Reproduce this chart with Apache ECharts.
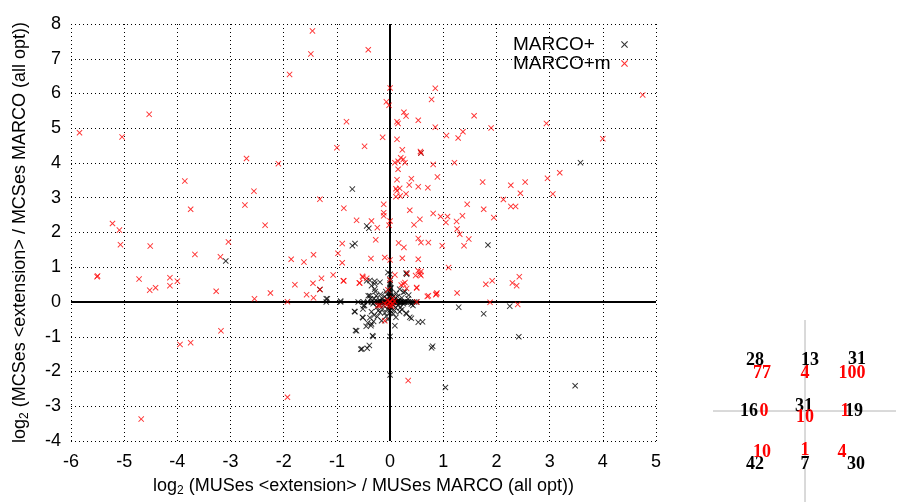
<!DOCTYPE html>
<html>
<head>
<meta charset="utf-8">
<script src="https://cdn.jsdelivr.net/npm/echarts@6/dist/echarts.min.js"></script>
<style>html,body{margin:0;padding:0;background:#fff;}#c{width:898px;height:502px;}</style>
</head>
<body>
<div id="c"></div>
<script>
// ---- data ----
const xTicks = [-6,-5,-4,-3,-2,-1,0,1,2,3,4,5];
const yTicks = [-4,-3,-2,-1,0,1,2,3,4,5,6,7,8];
const seriesNames = ['MARCO+', 'MARCO+m'];

const marcoPlus = [
 [0,0],[0,0],[0,0],[0,0],[0,0],
 [0,0.8],[0,0.62],[0,0.5],[0,0.42],[0,0.33],[0,0.25],[0,0.18],[0,0.12],[0,0.07],[0,0.28],[0,0.55],[0,0.38],[0,0.15],
 [0,-0.08],[0,-0.16],[0,-0.24],[0,-0.32],[0,-0.99],[0,-2.1],[0,-0.12],
 [-1.2,0],[-0.93,0],[-0.6,0],[-0.5,0],[-0.42,0],[-0.35,0],[-0.3,0],[-0.25,0],[-0.2,0],[-0.16,0],[-0.12,0],[-0.09,0],[-0.06,0],[-0.03,0],[-0.22,0],[-0.14,0],
 [0.03,0],[0.06,0],[0.09,0],[0.12,0],[0.15,0],[0.18,0],[0.21,0],[0.24,0],[0.27,0],[0.3,0],[0.34,0],[0.38,0],[0.42,0],[0.46,0],[0.5,0],[0.08,0],[0.14,0],[0.2,0],[0.26,0],
 [-3.09,1.18],[-1.32,0.36],[-1.18,0.09],[3.58,4.01],[-0.71,3.25],[-0.44,2.19],[-0.40,2.12],[-0.71,1.62],[-0.66,1.68],[1.84,1.64],[0.58,4.29],[-0.04,0.85],[0.30,0.83],[-1.20,0.09],[-0.93,0.03],
 [-0.67,-0.27],[-0.51,-0.45],[-0.63,-0.83],[-0.53,-1.35],[-0.39,-1.25],[-0.33,-0.97],[-0.35,-0.63],[-0.31,-0.56],[-0.16,-0.54],[0.09,-0.68],[0.11,-0.44],[0.37,-0.44],[0.30,-0.32],[0.53,-0.58],[0.61,-0.57],[0.78,-1.32],[1.04,-2.46],[1.29,-0.15],[1.76,-0.34],[2.25,-0.12],[2.42,-1.00],[3.48,-2.41],
 [-0.44,0.61],[-0.38,0.62],[-0.29,0.60],[-0.29,0.37],[-0.38,0.18],[-0.50,-0.11],[0.18,0.37],[0.35,0.20],[0.43,-0.10],[-0.29,0.52],[-0.19,0.57],[-0.35,0.47],[0.31,0.80],[0.25,0.28],[-0.41,0.18],[-0.37,0.09],[-0.48,-0.10],[-0.51,-0.20],[-0.66,-0.28],[-0.52,-0.44],[-0.38,-0.45],[-0.42,-0.60],[-0.36,-0.68],[-0.45,-0.70],[-0.19,-0.30],[-0.07,-0.40],[-0.04,-0.50],[0.06,-0.34],[0.31,-0.34],[0.40,-0.47],[0.34,0.09],[0.40,-0.06],[-0.65,-0.82],[-0.32,-0.99],[-0.55,-1.36],[-0.43,-1.33],[0.80,-1.27],
 [-0.15,0.10],[-0.10,0.15],[-0.20,0.05],[-0.12,-0.10],[0.10,0.10],[0.15,-0.10],[0.05,0.20],[-0.05,-0.20],[0.20,-0.15],[-0.25,-0.15],[-0.18,0.22],[0.12,0.25],[0.22,0.12],[-0.08,0.30],[0.08,-0.25],[-0.30,0.10],[0.25,-0.05],[-0.22,-0.25],[0.18,-0.28],[-0.10,-0.32],[0.02,0.40],[-0.28,0.30],[0.28,0.30],[-0.05,0.08],[0.05,-0.08],[-0.32,-0.05],[-0.26,0.18],[0.16,0.05],[-0.14,-0.20],[0.10,-0.16],[-0.35,-0.28],[-0.30,-0.38],[-0.24,-0.42],[0.04,0.12],[-0.06,0.22],[0.14,0.16],[-0.20,-0.06],[0.22,-0.22],[-0.02,-0.12],[0.08,0.05]
];

const marcoPlusM = [
 [-5.84,4.87],[-5.04,4.75],[-4.53,5.40],[-3.86,3.48],[-3.75,2.67],[-5.22,2.26],[-5.09,2.07],[-5.07,1.65],[-4.51,1.61],[-3.04,1.73],[-2.70,4.13],[-2.73,2.79],[-2.56,3.19],[-2.35,2.21],[-2.10,3.98],[-1.89,6.55],[-1.49,7.14],[-1.46,7.80],[-1.32,2.96],[-3.67,1.37],[-3.19,1.30],[-5.51,0.73],[-5.50,0.75],[-4.72,0.66],[-4.52,0.34],[-4.41,0.41],[-4.14,0.70],[-4.14,0.47],[-4.00,0.60],[-3.27,0.31],[-3.18,-0.83],[-3.95,-1.22],[-3.75,-1.17],[-2.55,0.09],[-2.25,0.26],[-1.93,0.01],[-1.93,-2.74],[-4.68,-3.37],[-1.86,1.23],[-1.62,1.15],[-1.44,1.36],[-1.79,0.50],[-1.45,0.54],[-1.57,0.21],[-1.44,0.12],[-1.29,0.68],[-1.32,0.36],
 [-0.41,7.26],[0,6.16],[-0.07,5.76],[-0.02,5.66],[0.85,6.15],[0.78,5.83],[0.26,5.46],[0.30,5.35],[0.53,5.23],[0.13,5.19],[0.15,5.14],[-0.82,5.19],[1.58,5.36],[0.85,5.03],[1.90,5.01],[2.94,5.14],[4.75,5.96],[4.00,4.70],[1.06,4.79],[1.28,4.72],[1.37,4.90],[-0.14,4.74],[0.13,4.68],[-1.00,4.44],[-0.48,4.48],[0.23,4.38],[0.58,4.29],[0.57,4.33],[0.09,4.01],[0.15,4.05],[0.25,4.11],[0.28,4.01],[0.20,4.15],[0.15,3.82],[0.81,3.96],[1.21,4.01],[3.19,3.72],[2.96,3.56],[2.54,3.45],[2.27,3.36],[2.45,3.13],[3.06,3.11],[1.74,3.45],[0.89,3.60],[0.40,3.55],[0.13,3.52],[0.36,3.37],[0.53,3.32],[0.71,3.29],[0.11,3.26],[0.18,3.27],[0.13,3.20],[0.30,3.11],[0.19,3.05],[0.11,3.03],
 [-0.87,2.70],[-0.12,2.81],[-0.12,2.57],[-0.12,2.48],[0.37,2.64],[0.81,2.55],[1.45,2.81],[1.76,2.67],[2.13,2.95],[2.27,2.75],[2.36,2.75],[1.95,2.43],[-0.63,2.35],[-0.35,2.33],[-0.24,2.14],[0,2.33],[-0.02,2.21],[0.56,2.38],[0.45,2.22],[0.95,2.46],[1.08,2.46],[1.05,2.29],[1.25,2.32],[1.36,2.48],[1.26,2.10],[1.31,1.95],[1.48,1.81],[1.39,1.62],[-0.27,1.79],[-0.90,1.68],[0.16,1.70],[0.26,1.57],[0.53,1.83],[0.58,1.71],[0.72,1.71],[0.98,1.62],
 [-0.98,1.40],[-0.90,1.13],[-0.36,1.25],[-0.10,1.28],[0,1.21],[0.23,1.26],[0.53,1.23],[1.10,0.99],[-1.07,0.78],[-0.87,0.61],[-0.58,0.55],[-0.52,0.74],[-0.44,0.68],[0.09,0.78],[0,0.64],[0.32,0.83],[0.28,0.56],[0.21,0.49],[0.31,0.39],[0.50,0.40],[0.48,0.76],[0.58,0.88],[0.58,0.76],[0.70,0.16],[0.86,0.21],[0.88,0.26],[1.26,0.26],[1.80,0.51],[1.92,0.61],[2.30,0.55],[2.38,0.47],[2.43,0.73],[1.88,-0.01],[2.40,-0.07],[0.50,0],[-0.23,-0.10],[-0.04,0.35],[0.34,-2.26],[-0.88,0.61],[-0.57,0.55],[-0.51,0.71],[0.25,0.52],[0.50,0.42],[0.56,0.80],[0.53,0.90],[0.72,0.18],[0.87,0.23],[-0.19,-0.10],[-0.10,-0.54],
 [-0.05,0.05],[0.05,-0.05],[0,-0.10],[0.05,0.10],[-0.10,-0.05],[0.08,0.02],[0,0],[0,0],[0.03,-0.12],[-0.06,-0.08]
];

// quadrant counts (rows: top, middle, bottom; columns: left, centre, right)
const countsMarcoPlus  = [[28,13,31],[16,31,19],[42,7,30]];
const countsMarcoPlusM = [[77,4,100],[0,10,1],[10,1,4]];

// ---- chart ----
// filled "x" glyph (gnuplot point type 2)
const XSYM = 'path://M0,1.1L1.1,0L5,3.9L8.9,0L10,1.1L6.1,5L10,8.9L8.9,10L5,6.1L1.1,10L0,8.9L3.9,5Z';
const chart = echarts.init(document.getElementById('c'), null, {renderer:'canvas'});
const FONT = 'Liberation Sans, Arial, sans-serif';

// layout of the quadrant-count panel (pixel positions)
const panel = {cx: 805, cy: 411, x1: 713, x2: 896, y1: 320, y2: 502};
const blackPos = [[[755,360],[810,360],[857,359]],[[749,411],[804,406],[854,411]],[[755,464],[805,464],[856,464]]];
const redPos   = [[[762,373],[805,373],[852,373]],[[764,411],[805,417],[845,411]],[[762,452],[805,450],[842,452]]];

const graphics = [
  {type:'line', shape:{x1:panel.x1,y1:panel.cy,x2:panel.x2,y2:panel.cy}, style:{stroke:'#b4b4b4', lineWidth:1}},
  {type:'line', shape:{x1:panel.cx,y1:panel.y1,x2:panel.cx,y2:panel.y2}, style:{stroke:'#b4b4b4', lineWidth:1}}
];
const serifFont = 'bold 18px "Liberation Serif", "DejaVu Serif", serif';
for (let r=0;r<3;r++) for (let c=0;c<3;c++) {
  graphics.push({type:'text', z:10, style:{text:String(countsMarcoPlus[r][c]), x:blackPos[r][c][0], y:blackPos[r][c][1], fill:'#000', font:serifFont, align:'center', verticalAlign:'middle'}});
}
for (let r=0;r<3;r++) for (let c=0;c<3;c++) {
  graphics.push({type:'text', z:11, style:{text:String(countsMarcoPlusM[r][c]), x:redPos[r][c][0], y:redPos[r][c][1], fill:'#ff0000', font:serifFont, align:'center', verticalAlign:'middle'}});
}

const nameRich = {
  a:{fontFamily:FONT, fontSize:18, color:'#000'},
  s:{fontFamily:FONT, fontSize:12, color:'#000', padding:[10,0,0,0]}
};

chart.setOption({
  animation:false,
  backgroundColor:'#fff',
  color:['#000000', '#ff0000'],
  grid:{left:71, top:24, right:242, bottom:60, containLabel:false},
  legend:{
    orient:'vertical', left:513, top:35, itemGap:0, align:'right', padding:0,
    itemWidth:7, itemHeight:7,
    formatter:'{t|{name}}',
    textStyle:{fontFamily:FONT, fontSize:19, color:'#000', lineHeight:18,
      rich:{t:{fontFamily:FONT, fontSize:19, color:'#000', width:103, align:'left', lineHeight:18}}},
    data:[
      {name:seriesNames[0], icon:XSYM},
      {name:seriesNames[1], icon:XSYM}
    ]
  },
  xAxis:{
    type:'value', min:xTicks[0], max:xTicks[xTicks.length-1], interval:1,
    axisLine:{show:false, onZero:false}, axisTick:{show:false},
    axisLabel:{fontFamily:FONT, fontSize:18, color:'#000', margin:12},
    splitLine:{show:true, lineStyle:{color:'#000', type:[1,3], width:1}},
    name:'{a|log}{s|2}{a| (MUSes <extension> / MUSes MARCO (all opt))}',
    nameLocation:'middle', nameGap:34, nameTextStyle:{rich:nameRich}
  },
  yAxis:{
    type:'value', min:yTicks[0], max:yTicks[yTicks.length-1], interval:1,
    axisLine:{show:false, onZero:false}, axisTick:{show:false},
    axisLabel:{fontFamily:FONT, fontSize:18, color:'#000', margin:10},
    splitLine:{show:true, lineStyle:{color:'#000', type:[1,3], width:1}},
    name:'{a|log}{s|2}{a| (MCSes <extension> / MCSes MARCO (all opt))}',
    nameLocation:'middle', nameGap:40, nameTextStyle:{rich:nameRich}
  },
  series:[
    {
      name:seriesNames[0], type:'scatter', z:3, symbol:XSYM, symbolSize:6,
      itemStyle:{color:'#000000'},
      data:marcoPlus,
      markLine:{silent:true, symbol:'none', z:1, label:{show:false},
        lineStyle:{color:'#000', width:2, type:'solid'},
        data:[{xAxis:0},{yAxis:0}]}
    },
    {
      name:seriesNames[1], type:'scatter', z:4, symbol:XSYM, symbolSize:6,
      itemStyle:{color:'#ff0000'},
      data:marcoPlusM
    }
  ],
  graphic:graphics
});
</script>
</body>
</html>
